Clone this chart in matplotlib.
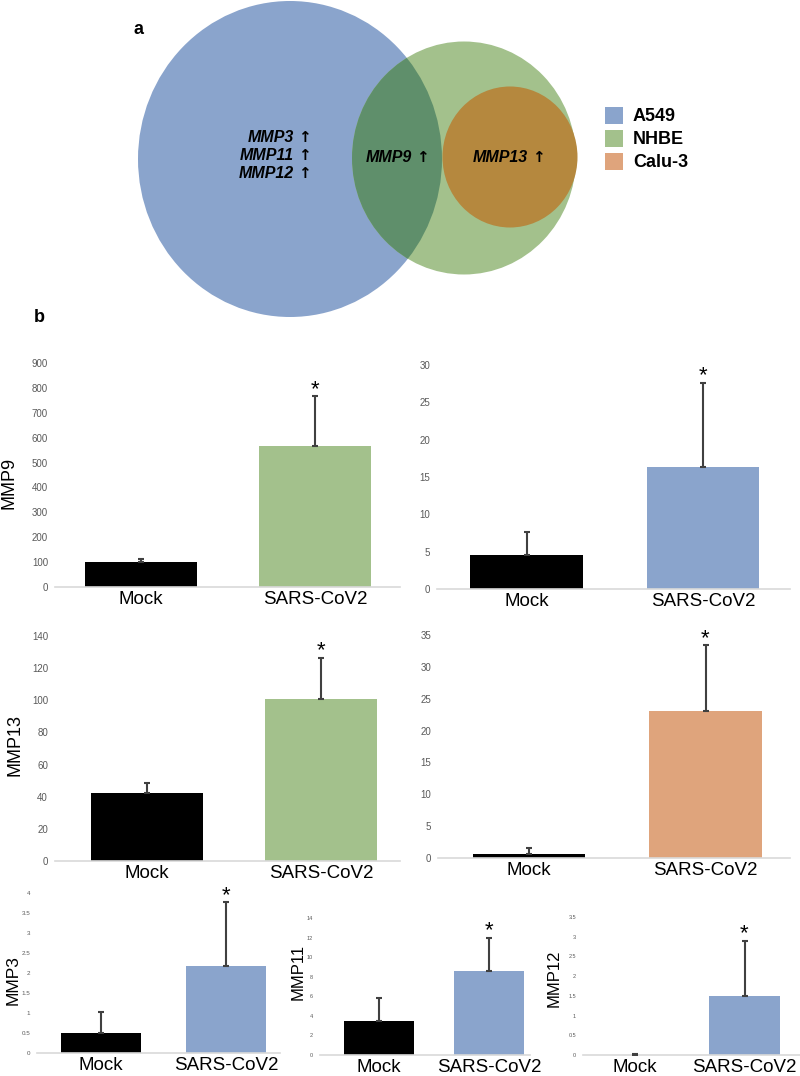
import matplotlib
matplotlib.use("Agg")
import matplotlib.pyplot as plt
from matplotlib.patches import Ellipse, Rectangle

plt.rcParams['font.family'] = ['Liberation Sans', 'DejaVu Sans']

# ---- data ----
groups = ["Mock", "SARS-CoV2"]

mmp9_nhbe = [100, 566]
mmp9_nhbe_err = [12, 201]
mmp9_a549 = [4.55, 16.3]
mmp9_a549_err = [3.05, 11.3]
mmp13_nhbe = [42.3, 100.8]
mmp13_nhbe_err = [6.2, 25.5]
mmp13_calu3 = [0.7, 23.1]
mmp13_calu3_err = [0.9, 10.3]
mmp3_a549 = [0.5, 2.17]
mmp3_a549_err = [0.52, 1.6]
mmp11_a549 = [3.47, 8.6]
mmp11_a549_err = [2.33, 3.35]
mmp12_a549 = [0.0, 1.5]
mmp12_a549_err = [0.02, 1.39]

venn_sets = ["A549", "NHBE", "Calu-3"]
venn_only_a549 = ["MMP3", "MMP11", "MMP12"]
venn_a549_nhbe = ["MMP9"]
venn_nhbe_calu3 = ["MMP13"]

# ---- colours ----
BLUE = "#8aa4cc"
GREEN = "#a3c18c"
ORANGE = "#dfa47c"
DARK_GREEN = "#5f8f6b"
DARK_ORANGE = "#b5883e"

W, H = 800, 1076
fig = plt.figure(figsize=(W / 100, H / 100), dpi=100)

# overlay axes in pixel units (venn + panel letters)
ov = fig.add_axes([0, 0, 1, 1])
ov.set_xlim(0, W)
ov.set_ylim(H, 0)
ov.axis('off')

# venn circles (pixel geometry)
blue = Ellipse((290, 159), 304, 316, facecolor=BLUE, edgecolor='none')
green = Ellipse((464, 158), 224, 233, facecolor=GREEN, edgecolor='none')
ov.add_patch(blue)
ov.add_patch(green)
overlap = Ellipse((464, 158), 224, 233, facecolor=DARK_GREEN, edgecolor='none')
ov.add_patch(overlap)
overlap.set_clip_path(blue)
ov.add_patch(Ellipse((510, 157), 135, 141, facecolor=DARK_ORANGE, edgecolor='none'))

name_font = dict(fontsize=11.5, fontweight='bold', fontstyle='italic',
                 ha='right', va='center')
arrow_font = dict(family='DejaVu Sans', fontsize=11, fontweight='bold',
                  ha='left', va='center')


def venn_label(x_right, y, name):
    ov.text(x_right, y, name, **name_font)
    ov.text(x_right + 4, y, "\u2191", **arrow_font)


for i, g in enumerate(venn_only_a549):
    venn_label(294, 137 + i * 18.5, g)
venn_label(412, 157, venn_a549_nhbe[0])
venn_label(528, 157, venn_nhbe_calu3[0])

for i, (name, col) in enumerate(zip(venn_sets, [BLUE, GREEN, ORANGE])):
    yc = 115.5 + i * 22.8
    ov.add_patch(Rectangle((605, yc - 8.5), 18, 17, facecolor=col, edgecolor='none'))
    ov.text(633, yc + 1, name, fontsize=13, fontweight='bold', ha='left', va='center')

ov.text(138, 30, "a", fontsize=13, fontweight='bold', ha='center', va='center')
ov.text(39, 318, "b", fontsize=13, fontweight='bold', ha='center', va='center')


def bar_panel(L, R, y0, ytop, m, s, ymax, step, vals, errs, col,
              ylabel="", label_xy=None, tick_fs=7, lab_fs=13.5, ylab_fs=13):
    ax = fig.add_axes([L / W, (H - y0) / H, (R - L) / W, (y0 - ytop) / H])
    u = s - m
    ax.bar([0, 1], vals, width=0.64, color=['black', col], zorder=2)
    ax.errorbar([0, 1], vals, yerr=[[0, 0], errs], fmt='none', ecolor='#404040',
                elinewidth=1.5, capsize=2, capthick=1.5, zorder=3)
    ax.set_xlim((L - m) / u, (R - m) / u)
    ax.set_ylim(0, ymax)
    ticks = [k * step for k in range(int(round(ymax / step)) + 1)]
    ax.set_yticks(ticks)
    ax.set_yticklabels([("%g" % t) for t in ticks], fontsize=tick_fs, color='#595959')
    ax.set_xticks([0, 1])
    ax.set_xticklabels(groups, fontsize=lab_fs)
    ax.tick_params(axis='both', length=0)
    ax.tick_params(axis='y', pad=5)
    ax.tick_params(axis='x', pad=3)
    for sp in ['top', 'right', 'left']:
        ax.spines[sp].set_visible(False)
    ax.spines['bottom'].set_color('#d9d9d9')
    ax.spines['bottom'].set_linewidth(1.2)
    ax.patch.set_alpha(0)
    top = vals[1] + errs[1]
    ax.annotate("*", (1, top), xytext=(0, 1), textcoords='offset points',
                ha='center', va='baseline', fontsize=16, annotation_clip=False)
    if ylabel:
        ax.set_ylabel(ylabel, fontsize=ylab_fs, va='center')
        ax.yaxis.set_label_coords((label_xy[0] - L) / (R - L),
                                  (y0 - label_xy[1]) / (y0 - ytop))
    return ax


bar_panel(55, 400, 587, 363, 141, 315, 900, 100, mmp9_nhbe, mmp9_nhbe_err, GREEN,
          "MMP9", (9, 483))
bar_panel(437, 790, 589, 365, 526.5, 703, 30, 5, mmp9_a549, mmp9_a549_err, BLUE)
bar_panel(55, 400, 861, 636, 147, 321, 140, 20, mmp13_nhbe, mmp13_nhbe_err, GREEN,
          "MMP13", (15, 745))
bar_panel(438, 790, 858, 635, 529, 705.5, 35, 5, mmp13_calu3, mmp13_calu3_err, ORANGE)
bar_panel(37, 280, 1053, 893, 101, 226, 4, 0.5, mmp3_a549, mmp3_a549_err, BLUE,
          "MMP3", (13, 980), tick_fs=4.5, ylab_fs=12.5)
bar_panel(320, 530, 1055, 918, 379, 489, 14, 2, mmp11_a549, mmp11_a549_err, BLUE,
          "MMP11", (298, 972), tick_fs=4, ylab_fs=12)
bar_panel(583, 800, 1055, 917, 634.5, 744.5, 3.5, 0.5, mmp12_a549, mmp12_a549_err, BLUE,
          "MMP12", (554, 978), tick_fs=4, ylab_fs=12)

fig.savefig("out.png", dpi=100)
